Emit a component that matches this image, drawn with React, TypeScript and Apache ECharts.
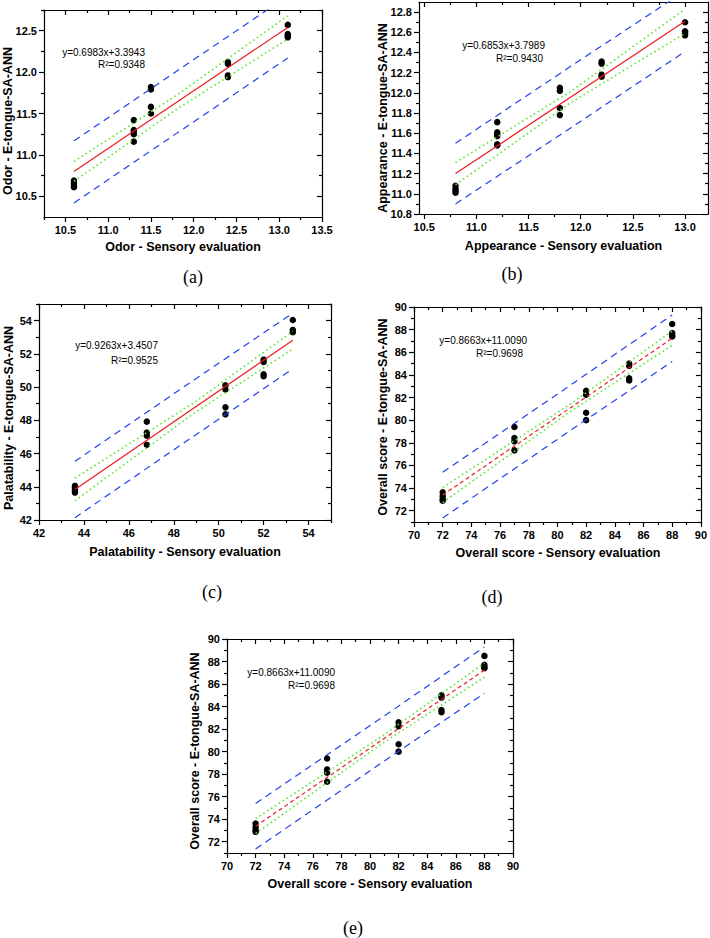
import { useEffect, useRef } from "react";
import * as echarts from "echarts";

// ---------------- data ----------------
// (a) Odor
const odorSensory = [10.6, 10.6, 10.6, 10.6, 11.3, 11.3, 11.3, 11.3, 11.3, 11.5, 11.5, 11.5, 11.5, 12.4, 12.4, 12.4, 12.4, 13.1, 13.1, 13.1, 13.1];
const odorPredicted = [10.69, 10.66, 10.63, 10.61, 11.42, 11.3, 11.28, 11.25, 11.16, 11.82, 11.79, 11.58, 11.5, 12.12, 12.1, 11.96, 11.94, 12.57, 12.46, 12.44, 12.42];
const odorFitX = [10.6, 13.1];
const odorFitY = [10.8, 12.54];
const odorBandX = [10.6, 11.8, 13.1];
const odorConfUpper = [10.92, 11.72, 12.68];
const odorConfLower = [10.68, 11.55, 12.4];
const odorPredUpper = [11.17, 12.01, 12.92];
const odorPredLower = [10.42, 11.26, 12.17];
const odorXMajor = [10.5, 11, 11.5, 12, 12.5, 13, 13.5];
const odorXMinor = [10.25, 10.75, 11.25, 11.75, 12.25, 12.75, 13.25];
const odorYMajor = [10.5, 11, 11.5, 12, 12.5];
const odorYMinor = [10.75, 11.25, 11.75, 12.25, 12.75];

// (b) Appearance
const appSensory = [10.8, 10.8, 10.8, 10.8, 11.2, 11.2, 11.2, 11.2, 11.2, 11.2, 11.8, 11.8, 11.8, 11.8, 12.2, 12.2, 12.2, 12.2, 13.0, 13.0, 13.0, 13.0];
const appPredicted = [11.08, 11.05, 11.03, 11.01, 11.71, 11.61, 11.59, 11.57, 11.49, 11.48, 12.05, 12.02, 11.85, 11.78, 12.31, 12.29, 12.18, 12.16, 12.7, 12.61, 12.59, 12.57];
const appFitX = [10.8, 13.0];
const appFitY = [11.2, 12.71];
const appBandX = [10.8, 11.9, 13.0];
const appConfUpper = [11.31, 12.01, 12.83];
const appConfLower = [11.09, 11.9, 12.59];
const appPredUpper = [11.5, 12.26, 13.01];
const appPredLower = [10.9, 11.65, 12.41];
const appXMajor = [10.5, 11, 11.5, 12, 12.5, 13];
const appXMinor = [10.75, 11.25, 11.75, 12.25, 12.75];
const appYMajor = [10.8, 11.0, 11.2, 11.4, 11.6, 11.8, 12.0, 12.2, 12.4, 12.6, 12.8];
const appYMinor = [10.9, 11.1, 11.3, 11.5, 11.7, 11.9, 12.1, 12.3, 12.5, 12.7];

// (c) Palatability
const palSensory = [43.6, 43.6, 43.6, 43.6, 43.6, 46.8, 46.8, 46.8, 46.8, 50.3, 50.3, 50.3, 50.3, 52.0, 52.0, 52.0, 52.0, 53.3, 53.3, 53.3];
const palPredicted = [44.05, 43.95, 43.85, 43.75, 43.65, 47.92, 47.26, 47.07, 46.53, 50.11, 49.86, 48.78, 48.36, 51.65, 51.51, 50.77, 50.65, 54.04, 53.44, 53.3];
const palFitX = [43.6, 53.3];
const palFitY = [43.84, 52.82];
const palBandX = [43.6, 48.9, 53.3];
const palConfUpper = [44.52, 49.06, 53.36];
const palConfLower = [43.16, 48.43, 52.29];
const palPredUpper = [45.53, 50.43, 54.45];
const palPredLower = [42.14, 47.06, 51.1];
const palXMajor = [42, 44, 46, 48, 50, 52, 54];
const palXMinor = [43, 45, 47, 49, 51, 53, 55];
const palYMajor = [42, 44, 46, 48, 50, 52, 54];
const palYMinor = [43, 45, 47, 49, 51, 53, 55];

// (d) and (e) Overall score
const ovSensory = [72, 72, 72, 72, 77, 77, 77, 77, 82, 82, 82, 82, 85, 85, 85, 85, 88, 88, 88, 88];
const ovPredicted = [73.62, 73.3, 73.03, 72.88, 79.39, 78.42, 78.13, 77.33, 82.6, 82.25, 80.65, 80.0, 85.0, 84.8, 83.7, 83.5, 88.5, 87.7, 87.5, 87.4];
const ovFitX = [72, 88];
const ovFitY = [73.38, 87.24];
const ovBandX = [72, 80.8, 88];
const ovConfUpper = [74.05, 81.33, 87.88];
const ovConfLower = [72.72, 80.68, 86.61];
const ovPredUpper = [75.4, 83.0, 89.3];
const ovPredLower = [71.36, 79.0, 85.18];
const ovXMajor = [70, 72, 74, 76, 78, 80, 82, 84, 86, 88, 90];
const ovXMinor = [71, 73, 75, 77, 79, 81, 83, 85, 87, 89];
const ovYMajor = [72, 74, 76, 78, 80, 82, 84, 86, 88, 90];
const ovYMinor = [71, 73, 75, 77, 79, 81, 83, 85, 87, 89];

// texts
const panelLetters = ["(a)", "(b)", "(c)", "(d)", "(e)"];
const xTitles = ["Odor - Sensory evaluation", "Appearance - Sensory evaluation", "Palatability - Sensory evaluation", "Overall score - Sensory evaluation", "Overall score - Sensory evaluation"];
const yTitles = ["Odor - E-tongue-SA-ANN", "Appearance - E-tongue-SA-ANN", "Palatability - E-tongue-SA-ANN", "Overall score - E-tongue-SA-ANN", "Overall score - E-tongue-SA-ANN"];
const equations = ["y=0.6983x+3.3943", "y=0.6853x+3.7989", "y=0.9263x+3.4507", "y=0.8663x+11.0090", "y=0.8663x+11.0090"];
const rSquared = ["R²=0.9348", "R²=0.9430", "R²=0.9525", "R²=0.9698", "R²=0.9698"];

// ---------------- layout / styles ----------------
const SANS = "'Liberation Sans', Arial, sans-serif";
const SERIF = "'Liberation Serif', 'Times New Roman', serif";
const RED = "#ee1c1c";
const GREEN = "#5ce62e";
const BLUE = "#2440ee";

type Panel = {
  grid: { left: number; top: number; width: number; height: number };
  xr: [number, number];
  yr: [number, number];
  xMajor: number[]; xMinor: number[]; yMajor: number[]; yMinor: number[];
  dec: number;
  sx: number[]; sy: number[];
  fitX: number[]; fitY: number[];
  bandX: number[]; cu: number[]; cl: number[]; pu: number[]; pl: number[];
  fitDashed: boolean;
  xTitleY: number; yTitleX: number; yTitleY: number;
  eqRight: number; eqY: number; r2Right: number; r2Y: number;
  capX: number; capY: number;
};

const panels: Panel[] = [
  {
    grid: { left: 44, top: 10, width: 278, height: 207 }, xr: [10.25, 13.5], yr: [10.25, 12.75],
    xMajor: odorXMajor, xMinor: odorXMinor, yMajor: odorYMajor, yMinor: odorYMinor, dec: 1,
    sx: odorSensory, sy: odorPredicted, fitX: odorFitX, fitY: odorFitY,
    bandX: odorBandX, cu: odorConfUpper, cl: odorConfLower, pu: odorPredUpper, pl: odorPredLower, fitDashed: false,
    xTitleY: 247, yTitleX: 8, yTitleY: 121, eqRight: 145, eqY: 52, r2Right: 145, r2Y: 64, capX: 193, capY: 277,
  },
  {
    grid: { left: 419, top: 2, width: 289, height: 212 }, xr: [10.45, 13.22], yr: [10.8, 12.9],
    xMajor: appXMajor, xMinor: appXMinor, yMajor: appYMajor, yMinor: appYMinor, dec: 1,
    sx: appSensory, sy: appPredicted, fitX: appFitX, fitY: appFitY,
    bandX: appBandX, cu: appConfUpper, cl: appConfLower, pu: appPredUpper, pl: appPredLower, fitDashed: false,
    xTitleY: 246, yTitleX: 383, yTitleY: 118, eqRight: 545, eqY: 45, r2Right: 543, r2Y: 58, capX: 512, capY: 274,
  },
  {
    grid: { left: 39, top: 304, width: 292, height: 216 }, xr: [42, 55], yr: [42, 55],
    xMajor: palXMajor, xMinor: palXMinor, yMajor: palYMajor, yMinor: palYMinor, dec: 0,
    sx: palSensory, sy: palPredicted, fitX: palFitX, fitY: palFitY,
    bandX: palBandX, cu: palConfUpper, cl: palConfLower, pu: palPredUpper, pl: palPredLower, fitDashed: false,
    xTitleY: 552, yTitleX: 9, yTitleY: 418, eqRight: 158, eqY: 345, r2Right: 158, r2Y: 360, capX: 212, capY: 592,
  },
  {
    grid: { left: 414, top: 307, width: 288, height: 215 }, xr: [70, 90], yr: [71, 90],
    xMajor: ovXMajor, xMinor: ovXMinor, yMajor: ovYMajor, yMinor: ovYMinor, dec: 0,
    sx: ovSensory, sy: ovPredicted, fitX: ovFitX, fitY: ovFitY,
    bandX: ovBandX, cu: ovConfUpper, cl: ovConfLower, pu: ovPredUpper, pl: ovPredLower, fitDashed: true,
    xTitleY: 553, yTitleX: 383, yTitleY: 417, eqRight: 527, eqY: 340, r2Right: 523, r2Y: 353, capX: 492, capY: 597,
  },
  {
    grid: { left: 227, top: 639, width: 286, height: 214 }, xr: [70, 90], yr: [71, 90],
    xMajor: ovXMajor, xMinor: ovXMinor, yMajor: ovYMajor, yMinor: ovYMinor, dec: 0,
    sx: ovSensory, sy: ovPredicted, fitX: ovFitX, fitY: ovFitY,
    bandX: ovBandX, cu: ovConfUpper, cl: ovConfLower, pu: ovPredUpper, pl: ovPredLower, fitDashed: true,
    xTitleY: 884, yTitleX: 195, yTitleY: 751, eqRight: 335, eqY: 672, r2Right: 335, r2Y: 685, capX: 353, capY: 928,
  },
];

function buildOption() {
  const grids: any[] = [];
  const xAxes: any[] = [];
  const yAxes: any[] = [];
  const series: any[] = [];
  const graphics: any[] = [];

  const labelStyle = { color: "#000", fontFamily: SANS, fontWeight: "bold", fontSize: 11 };
  const lineStyle = { color: "#000", width: 1.2 };

  panels.forEach((p, i) => {
    grids.push({ ...p.grid, containLabel: false, show: false });
    const fmt = (v: number) => v.toFixed(p.dec);

    const mk = (dim: "x" | "y", position: string, major: boolean, mirror: boolean) => {
      const range = dim === "x" ? p.xr : p.yr;
      const vals = dim === "x" ? (major ? p.xMajor : p.xMinor) : (major ? p.yMajor : p.yMinor);
      return {
        type: "value",
        gridIndex: i,
        position,
        min: range[0],
        max: range[1],
        splitLine: { show: false },
        axisLine: { show: major, onZero: false, lineStyle },
        axisTick: { show: true, inside: mirror, customValues: vals, length: major ? 5 : 3, lineStyle: { color: "#000", width: 1.2 } },
        axisLabel: major && !mirror
          ? { show: true, customValues: vals, formatter: fmt, margin: 7, ...labelStyle }
          : { show: false },
        z: 3,
      };
    };

    xAxes.push(mk("x", "bottom", true, false));
    xAxes.push(mk("x", "bottom", false, false));
    xAxes.push(mk("x", "top", true, true));
    xAxes.push(mk("x", "top", false, true));
    yAxes.push(mk("y", "left", true, false));
    yAxes.push(mk("y", "left", false, false));
    yAxes.push(mk("y", "right", true, true));
    yAxes.push(mk("y", "right", false, true));

    const ax = { xAxisIndex: 4 * i, yAxisIndex: 4 * i };
    const pair = (xs: number[], ys: number[]) => xs.map((x, k) => [x, ys[k]]);
    const line = (data: number[][], color: string, type: any, width: number) => ({
      type: "line", ...ax, data, symbol: "none", showSymbol: false, silent: true, clip: true,
      lineStyle: { color, type, width }, z: 4,
    });

    series.push({
      type: "scatter", ...ax, data: pair(p.sx, p.sy), symbol: "circle", symbolSize: 6.5,
      itemStyle: { color: "#000", opacity: 1 }, silent: true, z: 3,
    });
    series.push(line(pair(p.bandX, p.pu), BLUE, [7, 5], 1.2));
    series.push(line(pair(p.bandX, p.pl), BLUE, [7, 5], 1.2));
    series.push(line(pair(p.bandX, p.cu), GREEN, [1.6, 3], 1.6));
    series.push(line(pair(p.bandX, p.cl), GREEN, [1.6, 3], 1.6));
    series.push(line(pair(p.fitX, p.fitY), RED, p.fitDashed ? [4, 3] : "solid", 1.2));

    const cx = p.grid.left + p.grid.width / 2;
    graphics.push({
      type: "text", x: cx, y: p.xTitleY,
      style: { text: xTitles[i], fill: "#000", font: `bold 12.5px ${SANS}`, textAlign: "center", textVerticalAlign: "middle" },
    });
    graphics.push({
      type: "text", x: p.yTitleX, y: p.yTitleY, rotation: Math.PI / 2,
      style: { text: yTitles[i], fill: "#000", font: `bold 12.5px ${SANS}`, textAlign: "center", textVerticalAlign: "middle" },
    });
    graphics.push({
      type: "text", x: p.eqRight, y: p.eqY,
      style: { text: equations[i], fill: "#000", font: `10px ${SANS}`, textAlign: "right", textVerticalAlign: "middle" },
    });
    graphics.push({
      type: "text", x: p.r2Right, y: p.r2Y,
      style: { text: rSquared[i], fill: "#000", font: `10px ${SANS}`, textAlign: "right", textVerticalAlign: "middle" },
    });
    graphics.push({
      type: "text", x: p.capX, y: p.capY,
      style: { text: panelLetters[i], fill: "#000", font: `18px ${SERIF}`, textAlign: "center", textVerticalAlign: "middle" },
    });
  });

  return {
    animation: false,
    backgroundColor: "#fff",
    grid: grids,
    xAxis: xAxes,
    yAxis: yAxes,
    series,
    graphic: graphics,
  };
}

export default function App() {
  const ref = useRef<HTMLDivElement>(null);
  useEffect(() => {
    if (!ref.current) return;
    const chart = echarts.init(ref.current, undefined, { renderer: "svg" });
    chart.setOption(buildOption() as any);
    return () => chart.dispose();
  }, []);
  return (
    <div
      ref={ref}
      style={{ position: "absolute", left: 0, top: 0, width: 710, height: 938, background: "#fff" }}
    />
  );
}
